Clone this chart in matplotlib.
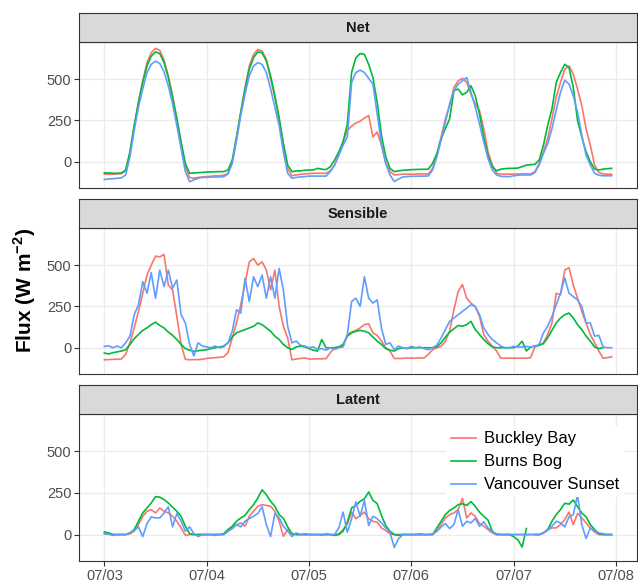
import numpy as np
import pandas as pd
import matplotlib
matplotlib.use('Agg')
import matplotlib.pyplot as plt
import matplotlib.dates as mdates

plt.rcParams['font.family'] = ['Liberation Sans', 'DejaVu Sans']
plt.rcParams['mathtext.fontset'] = 'custom'
plt.rcParams['mathtext.rm'] = 'Liberation Sans'
plt.rcParams['mathtext.bf'] = 'Liberation Sans:bold'

# -----------------------------
# data (hourly)
# -----------------------------
sites = ['Buckley Bay', 'Burns Bog', 'Vancouver Sunset']
colors = ['#F8766D', '#00BA38', '#619CFF']
panels = ['Net', 'Sensible', 'Latent']
time = pd.date_range('2017-07-03 00:00', periods=120, freq='h')
nan = np.nan

net_buckley = [
    -75, -75, -75, -74, -72, -55, 50, 210, 360, 490, 600, 660, 686, 675, 615, 520, 400, 260, 110, -30, -95, -100, -95, -92,
    -90, -88, -85, -85, -82, -70, 0, 140, 300, 450, 580, 650, 680, 670, 620, 500, 390, 270, 100, -40, -85, -80, -76, -74,
    -72, -70, -70, -70, -70, -55, -20, 40, 120, 190, 215, 235, 245, 265, 280, 150, 180, 100, -10, -60, -80, -78, -75, -75,
    -76, -75, -74, -74, -74, -40, 40, 150, 260, 340, 450, 490, 505, 480, 410, 350, 310, 200, 60, -20, -70, -75, -75, -75,
    -75, -74, -74, -74, -74, -60, -10, 60, 140, 260, 390, 480, 560, 580, 530, 440, 340, 200, 100, -20, -65, -74, -75, -76]
net_burns = [
    -67, -68, -70, -70, -68, -50, 60, 220, 360, 480, 580, 640, 665, 655, 600, 510, 390, 260, 120, -10, -70, -68, -66, -65,
    -62, -62, -60, -60, -60, -50, 10, 150, 300, 440, 560, 630, 665, 660, 610, 520, 400, 260, 110, -20, -60, -56, -55, -52,
    -50, -50, -40, -45, -48, -30, 10, 60, 120, 230, 540, 630, 655, 650, 590, 510, 360, 160, 30, -40, -60, -55, -52, -50,
    -48, -47, -46, -46, -45, -10, 50, 140, 200, 260, 430, 440, 405, 420, 460, 400, 290, 150, 40, -30, -55, -45, -42, -40,
    -40, -38, -30, -20, -18, -16, 10, 100, 220, 320, 480, 540, 590, 570, 450, 250, 150, 60, 0, -45, -50, -45, -42, -40]
net_vancouver = [
    -107, -105, -103, -100, -98, -80, 30, 190, 330, 440, 540, 590, 609, 595, 545, 460, 350, 220, 80, -60, -121, -110, -100, -95,
    -95, -93, -92, -92, -90, -75, -10, 130, 280, 410, 520, 580, 600, 590, 540, 440, 330, 220, 60, -70, -100, -95, -92, -90,
    -87, -87, -87, -87, -87, -60, -20, 40, 100, 150, 480, 540, 555, 540, 505, 470, 290, 110, -8, -80, -120, -105, -92, -90,
    -88, -88, -87, -87, -86, -50, 30, 130, 240, 350, 430, 470, 490, 510, 420, 330, 230, 120, 20, -50, -80, -88, -90, -90,
    -85, -82, -80, -80, -80, -65, -20, 50, 110, 200, 313, 420, 494, 470, 400, 300, 160, 40, -20, -70, -82, -85, -85, -85]

sens_buckley = [
    -73, -72, -70, -70, -68, -40, 30, 120, 220, 330, 440, 500, 555, 550, 565, 380, 350, 190, 20, -70, -73, -72, -72, -70,
    -65, -62, -60, -58, -55, -30, 60, 150, 260, 390, 520, 540, 500, 520, 470, 350, 470, 250, 130, 60, -73, -68, -65, -62,
    -68, -68, -67, -67, -66, -30, 0, 5, 10, 80, 95, 105, 120, 140, 145, 90, 75, 40, 0, -20, -65, -65, -64, -62,
    -63, -63, -62, -62, -40, -12, 0, 8, 40, 100, 230, 340, 383, 300, 270, 250, 190, 80, 40, 10, -20, -63, -63, -63,
    -63, -63, -63, -63, -60, 5, 15, 30, 80, 150, 330, 320, 470, 485, 380, 300, 220, 150, 80, 30, -20, -63, -60, -55]
sens_burns = [
    -32, -38, -30, -25, -20, -12, 20, 55, 80, 105, 120, 140, 155, 135, 120, 95, 75, 50, 20, -5, -15, -22, -18, -15,
    -12, -5, 0, 5, 10, 30, 65, 90, 100, 110, 120, 130, 150, 140, 120, 100, 70, 50, 20, 0, -10, 5, 10, 5,
    -5, -15, -20, 50, 0, 0, 0, 5, 20, 70, 90, 100, 105, 100, 90, 65, 40, 20, -5, -15, -20, -5, 0, -5,
    0, 0, 0, 0, 0, 0, 5, 30, 65, 95, 115, 135, 130, 140, 160, 110, 80, 50, 25, 5, 0, 0, 0, 0,
    0, 10, 40, -20, 5, 10, 15, 25, 60, 105, 150, 180, 200, 210, 180, 140, 110, 70, 40, 5, -5, 0, nan, nan]
sens_vancouver = [
    8, 12, 0, 10, 0, 30, 70, 200, 260, 400, 330, 455, 300, 470, 370, 470, 360, 410, 200, 150, 20, -50, 30, 10,
    5, 0, 10, 0, 5, 30, 100, 230, 210, 420, 280, 430, 370, 440, 300, 430, 300, 480, 350, 130, 30, 40, 15, 10,
    0, 5, -12, -5, -15, 0, -10, 0, 5, 80, 280, 300, 250, 430, 300, 270, 290, 120, 20, 30, -12, 10, 0, -5,
    8, 0, 5, -5, -12, 0, 15, 60, 110, 160, 180, 200, 220, 240, 260, 250, 200, 120, 80, 50, 30, 10, 0, 0,
    8, 5, 5, 8, 5, 8, 20, 90, 130, 190, 260, 330, 423, 330, 310, 290, 250, 150, 150, 70, 75, 5, 0, 0]

lat_buckley = [
    5, 3, 0, 0, 0, 0, 5, 20, 60, 110, 140, 150, 130, 160, 140, 130, 110, 80, 40, -5, 0, 0, 0, 0,
    0, 0, 0, 0, 0, 20, 40, 60, 70, 50, 110, 140, 170, 180, 175, 170, 140, 80, -10, 30, 5, 0, 0, 0,
    0, 0, 0, 0, 0, 0, 0, 5, 30, 64, 135, 95, 115, 135, 95, 80, 74, 40, 24, 5, 0, 0, 0, 0,
    0, 0, 0, 0, 0, 0, 20, 60, 100, 120, 130, 150, 218, 100, 130, 110, 66, 50, 30, 10, 0, 0, 0, 0,
    0, 0, 0, 0, 0, 0, 0, 10, 30, 40, 40, 60, 90, 135, 60, 127, 100, 70, 40, 15, 0, 0, 0, 0]
lat_burns = [
    16, 10, 0, 0, 0, 0, 10, 30, 80, 130, 160, 190, 228, 225, 210, 190, 165, 140, 110, 50, 5, 0, 0, 0,
    0, 0, 0, 0, 5, 30, 50, 80, 100, 115, 150, 180, 220, 269, 240, 200, 170, 120, 97, 46, 5, 0, 0, 0,
    0, 0, 0, 0, 0, 0, -5, 0, 20, 74, 160, 175, 200, 215, 256, 206, 186, 115, 54, 20, 0, -5, 0, 0,
    0, 0, 0, 0, 0, 0, 40, 80, 120, 145, 160, 180, 185, 175, 198, 170, 135, 110, 87, 20, 0, 0, 0, 0,
    -12, -32, -75, 36, nan, 0, 0, 10, 30, 80, 120, 150, 188, 183, 208, 167, 130, 107, 60, 30, 6, 0, 0, 0]
lat_vancouver = [
    5, 2, -5, 0, 0, 0, 10, 25, 46, -12, 66, 107, 100, 100, 130, 167, 46, 127, 80, 20, 46, 5, -12, 0,
    0, 0, -5, 0, 0, 20, 35, 60, 46, 80, 97, 110, 127, 167, 60, -12, 127, 100, 50, 20, -12, 10, 0, 5,
    0, 0, 0, -5, 5, 0, 0, 40, 135, 14, 95, 196, 110, 206, 54, 110, 95, 70, 40, 14, -77, -26, 0, 0,
    0, 0, 5, 0, 0, 5, 20, 45, 66, 36, 60, 150, 50, 80, 70, 97, 50, 76, 40, 15, 5, 0, 0, 0,
    0, 0, 0, 0, 0, 0, 0, 10, 25, 50, 80, 70, 46, 107, 120, 238, 60, -24, 40, 20, 10, 5, 0, 0]

data = {
    'Net': [net_buckley, net_burns, net_vancouver],
    'Sensible': [sens_buckley, sens_burns, sens_vancouver],
    'Latent': [lat_buckley, lat_burns, lat_vancouver],
}

# -----------------------------
# layout (pixel boxes of the ggplot facets)
# -----------------------------
W, H = 638, 587
fig = plt.figure(figsize=(W / 100, H / 100), dpi=100)

left_px, right_px = 79, 637
panel_px = {'Net': (42, 188), 'Sensible': (228, 374), 'Latent': (414, 561)}
strip_h = 29

t0 = mdates.date2num(time[0])
t1 = mdates.date2num(time[-1])
pad = 0.05 * (t1 - t0)
edge = '#333333'

def box(top, bottom):
    return [left_px / W, 1 - bottom / H, (right_px - left_px) / W, (bottom - top) / H]

axes = {}
for name in panels:
    top, bottom = panel_px[name]
    ax = fig.add_axes(box(top, bottom))
    axes[name] = ax
    for s, c, y in zip(sites, colors, data[name]):
        ax.plot(time, y, color=c, lw=1.2, label=s, zorder=3)
    ax.set_xlim(t0 - pad, t1 + pad)
    ax.set_ylim(-159, 725)
    ax.set_yticks([0, 250, 500])
    ax.xaxis.set_major_locator(mdates.DayLocator())
    ax.xaxis.set_major_formatter(mdates.DateFormatter('%m/%d'))
    ax.grid(True, color='#EBEBEB', lw=1.0, zorder=0)
    ax.set_axisbelow(True)
    for sp in ax.spines.values():
        sp.set_color(edge)
        sp.set_linewidth(0.8)
    ax.tick_params(axis='both', colors=edge, length=3.5, width=0.8,
                   labelcolor='#4D4D4D', labelsize=10.5, pad=2)
    if name != 'Latent':
        ax.tick_params(axis='x', bottom=False, labelbottom=False)

    # strip on top of the facet
    sax = fig.add_axes(box(top - strip_h, top))
    sax.set_facecolor('#D9D9D9')
    sax.set_xticks([])
    sax.set_yticks([])
    for sp in sax.spines.values():
        sp.set_color(edge)
        sp.set_linewidth(0.8)
    sax.text(0.5, 0.5, name, transform=sax.transAxes, ha='center', va='center',
             fontsize=10.5, fontweight='bold', color='#1A1A1A')

fig.text(25 / W, 1 - 290 / H, r'Flux (W m$^{\mathbf{-2}}$)', rotation=90,
         ha='center', va='center', fontsize=15, fontweight='bold')

leg = axes['Latent'].legend(loc='upper right', bbox_to_anchor=(633 / W, 1 - 418 / H),
                            bbox_transform=fig.transFigure, frameon=True, fontsize=12,
                            handlelength=1.5, handletextpad=0.5, labelspacing=0.48,
                            borderpad=0.3, fancybox=False)
leg.get_frame().set_facecolor('white')
leg.get_frame().set_edgecolor('none')
leg.get_frame().set_alpha(1)

plt.savefig('out.png', dpi=100)
